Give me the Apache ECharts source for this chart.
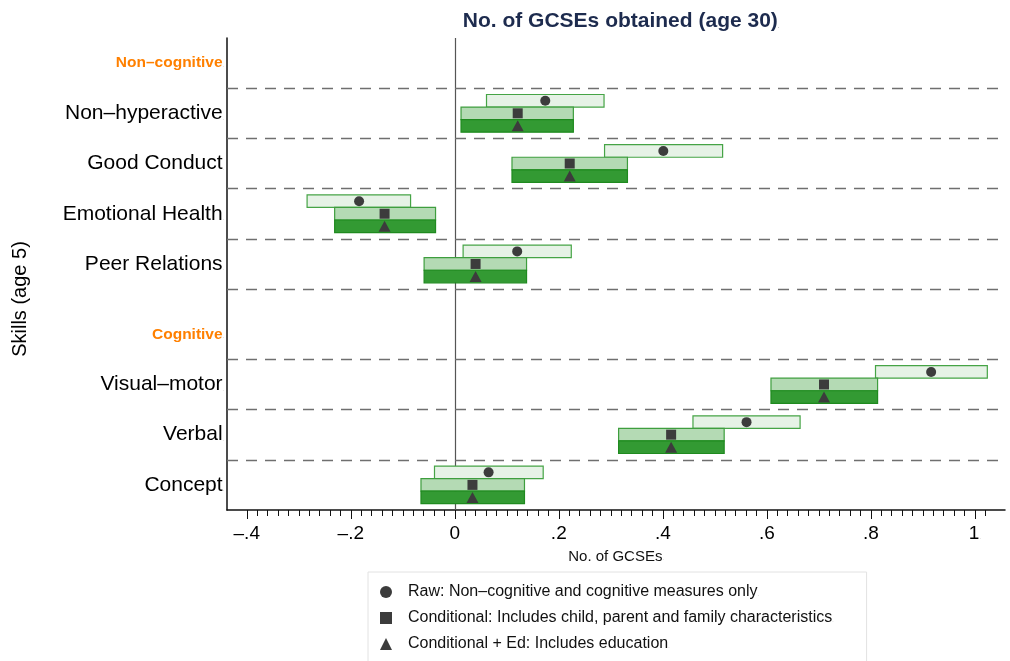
<!DOCTYPE html>
<html>
<head>
<meta charset="utf-8">
<script src="https://cdn.jsdelivr.net/npm/echarts@6/dist/echarts.min.js"></script>
<style>
  html, body { margin: 0; padding: 0; background: #ffffff; }
  #chart { width: 1010px; height: 661px; }
</style>
</head>
<body>
<div id="chart"></div>
<script>
// Skills measured at age 5 and their estimated effect on number of GCSEs (age 30)
const categories = ['Non–hyperactive', 'Good Conduct', 'Emotional Health', 'Peer Relations',
                    'Visual–motor', 'Verbal', 'Concept'];
const groupHeaders = ['Non–cognitive', 'Cognitive'];

// Raw: non-cognitive and cognitive measures only
const rawEst = [0.174, 0.401, -0.184, 0.120, 0.916, 0.561, 0.065];
const rawLo  = [0.061, 0.288, -0.284, 0.016, 0.809, 0.458, -0.039];
const rawHi  = [0.287, 0.515, -0.085, 0.224, 1.024, 0.664, 0.170];

// Conditional: child, parent and family characteristics
const condEst = [0.121, 0.221, -0.135, 0.040, 0.710, 0.416, 0.034];
const condLo  = [0.012, 0.110, -0.231, -0.059, 0.608, 0.315, -0.065];
const condHi  = [0.228, 0.332, -0.037, 0.138, 0.813, 0.518, 0.134];

// Conditional + education
const edEst = [0.121, 0.221, -0.135, 0.040, 0.710, 0.416, 0.034];
const edLo  = [0.012, 0.110, -0.231, -0.059, 0.608, 0.315, -0.065];
const edHi  = [0.228, 0.332, -0.037, 0.138, 0.813, 0.518, 0.134];

const xTickValues = [-0.4, -0.2, 0, 0.2, 0.4, 0.6, 0.8, 1];
const xTickLabels = ['–.4', '–.2', '0', '.2', '.4', '.6', '.8', '1'];

const legendNames = [
  'Raw: Non–cognitive and cognitive measures only',
  'Conditional: Includes child, parent and family characteristics',
  'Conditional + Ed: Includes education'
];

// ---- layout (vertical slots on the skill axis, top = 0) ----
const rowPos = [1.5, 2.5, 3.5, 4.5, 6.9, 7.9, 8.9];
const headerPos = [0.5, 5.9];
const separatorPos = [1, 2, 3, 4, 5, 6.4, 7.4, 8.4];
const BOX_H = 0.25;
const FONT = '"Liberation Sans", Arial, Helvetica, sans-serif';

const minorTicks = [];
for (let k = -20; k <= 51; k++) minorTicks.push(k / 50);

function near(a, b) { return Math.abs(a - b) < 1e-6; }

function boxRenderer(offset, fill, stroke) {
  return function (params, api) {
    const y = api.value(2) + offset;
    const p0 = api.coord([api.value(0), y]);
    const p1 = api.coord([api.value(1), y]);
    const h = api.size([0, BOX_H])[1];
    return {
      type: 'rect',
      shape: { x: p0[0], y: p0[1] - h / 2, width: p1[0] - p0[0], height: h },
      style: { fill: fill, stroke: stroke, lineWidth: 1.2 }
    };
  };
}

function intervals(lo, hi) {
  return categories.map((c, i) => [lo[i], hi[i], rowPos[i]]);
}
function points(est, offset) {
  return categories.map((c, i) => [est[i], rowPos[i] + offset]);
}

const xMin = -0.438, xMax = 1.058;
const markerColor = '#3c3c3c';
const dotStyle = { fontSize: 5, color: '#999', verticalAlign: 'bottom', padding: [0, 0, 3, 0] };

const option = {
  backgroundColor: '#ffffff',
  animation: false,
  textStyle: { fontFamily: FONT },
  title: {
    text: 'No. of GCSEs obtained (age 30){d|.}',
    left: 616,
    top: 6,
    textAlign: 'center',
    textStyle: {
      fontFamily: FONT, fontSize: 21, fontWeight: 'bold', color: '#1d2b4e',
      rich: { d: dotStyle }
    }
  },
  grid: { left: 227, right: 5, top: 38, bottom: 151, containLabel: false },
  xAxis: [
    {
      type: 'value', min: xMin, max: xMax, position: 'bottom',
      axisLine: { onZero: false, lineStyle: { color: '#111', width: 1.5 } },
      axisTick: { customValues: xTickValues, length: 9, lineStyle: { color: '#111', width: 1 } },
      axisLabel: {
        customValues: xTickValues,
        margin: 14,
        fontSize: 19, color: '#000', fontFamily: FONT,
        formatter: function (v) {
          const i = xTickValues.findIndex(t => near(t, v));
          const s = i >= 0 ? xTickLabels[i] : '';
          return near(v, 1) ? s + '{d|.}' : s;
        },
        rich: { d: dotStyle }
      },
      splitLine: { show: false },
      name: 'No. of GCSEs{d|.}',
      nameLocation: 'middle',
      nameGap: 39,
      nameTextStyle: {
        fontSize: 15, color: '#111', fontFamily: FONT,
        rich: { d: dotStyle }
      }
    },
    {
      type: 'value', min: xMin, max: xMax, position: 'bottom', gridIndex: 0,
      axisLine: { show: false, onZero: false },
      axisTick: { customValues: minorTicks, length: 6, lineStyle: { color: '#111', width: 1 } },
      axisLabel: { show: false },
      splitLine: { show: false }
    }
  ],
  yAxis: {
    type: 'value', min: 0, max: 9.4, inverse: true,
    axisLine: { show: true, onZero: false, lineStyle: { color: '#111', width: 1.5 } },
    axisTick: { show: false },
    splitLine: { show: false },
    axisLabel: {
      customValues: headerPos.concat(rowPos),
      margin: 3,
      formatter: function (v) {
        let i = headerPos.findIndex(p => near(p, v));
        if (i >= 0) return '{h|' + groupHeaders[i] + '}{d|.}';
        i = rowPos.findIndex(p => near(p, v));
        return i >= 0 ? '{c|' + categories[i] + '}{d|.}' : '';
      },
      rich: {
        c: { fontSize: 21, color: '#000', fontFamily: FONT },
        h: { fontSize: 15.5, fontWeight: 'bold', color: '#ff8000', fontFamily: FONT },
        d: dotStyle
      }
    }
  },
  legend: {
    data: legendNames,
    orient: 'vertical',
    left: 368, top: 572,
    height: 140,
    padding: [12, 33, 30, 12],
    itemGap: 10,
    itemWidth: 12, itemHeight: 12,
    borderColor: '#e2e2e2', borderWidth: 1,
    backgroundColor: '#ffffff',
    selectedMode: false,
    formatter: function (name) { return '{t|' + name + '}{d|.}'; },
    textStyle: {
      fontSize: 16, color: '#111', fontFamily: FONT,
      rich: {
        t: { fontSize: 16, color: '#111', fontFamily: FONT, padding: [0, 0, 0, 11] },
        d: dotStyle
      }
    }
  },
  graphic: [
    {
      type: 'text',
      x: 20, y: 299,
      rotation: Math.PI / 2,
      style: {
        text: 'Skills (age 5)',
        font: '20px ' + FONT,
        fill: '#000',
        align: 'center',
        verticalAlign: 'middle'
      }
    }
  ],
  series: [
    {
      // reference lines: zero effect and dashed separators between skills
      type: 'scatter', data: [], silent: true, z: 1,
      markLine: {
        silent: true, z: 1,
        symbol: ['none', 'none'],
        label: { show: false },
        emphasis: { disabled: true },
        data: [{ xAxis: 0, lineStyle: { color: '#555', width: 1.2, type: 'solid' } }]
          .concat(separatorPos.map(p => ({
            yAxis: p, lineStyle: { color: '#6f6f6f', width: 1.4, type: [11, 8] }
          })))
      }
    },
    {
      name: 'raw interval', type: 'custom', z: 3, silent: true,
      data: intervals(rawLo, rawHi), encode: { x: [0, 1], y: 2 },
      renderItem: boxRenderer(-BOX_H, '#e6f2e6', '#46a446')
    },
    {
      name: 'conditional interval', type: 'custom', z: 3, silent: true,
      data: intervals(condLo, condHi), encode: { x: [0, 1], y: 2 },
      renderItem: boxRenderer(0, '#b4dab4', '#3e9e3e')
    },
    {
      name: 'education interval', type: 'custom', z: 3, silent: true,
      data: intervals(edLo, edHi), encode: { x: [0, 1], y: 2 },
      renderItem: boxRenderer(BOX_H, '#339a33', '#1f8a1f')
    },
    {
      name: legendNames[0], type: 'scatter', z: 5,
      symbol: 'circle', symbolSize: 10,
      itemStyle: { color: markerColor, opacity: 1 },
      data: points(rawEst, -BOX_H)
    },
    {
      name: legendNames[1], type: 'scatter', z: 5,
      symbol: 'rect', symbolSize: 10,
      itemStyle: { color: markerColor, opacity: 1 },
      data: points(condEst, 0)
    },
    {
      name: legendNames[2], type: 'scatter', z: 5,
      symbol: 'triangle', symbolSize: [12, 11],
      itemStyle: { color: markerColor, opacity: 1 },
      data: points(edEst, BOX_H)
    }
  ]
};

const chart = echarts.init(document.getElementById('chart'), null, { renderer: 'canvas' });
chart.setOption(option);
</script>
</body>
</html>
